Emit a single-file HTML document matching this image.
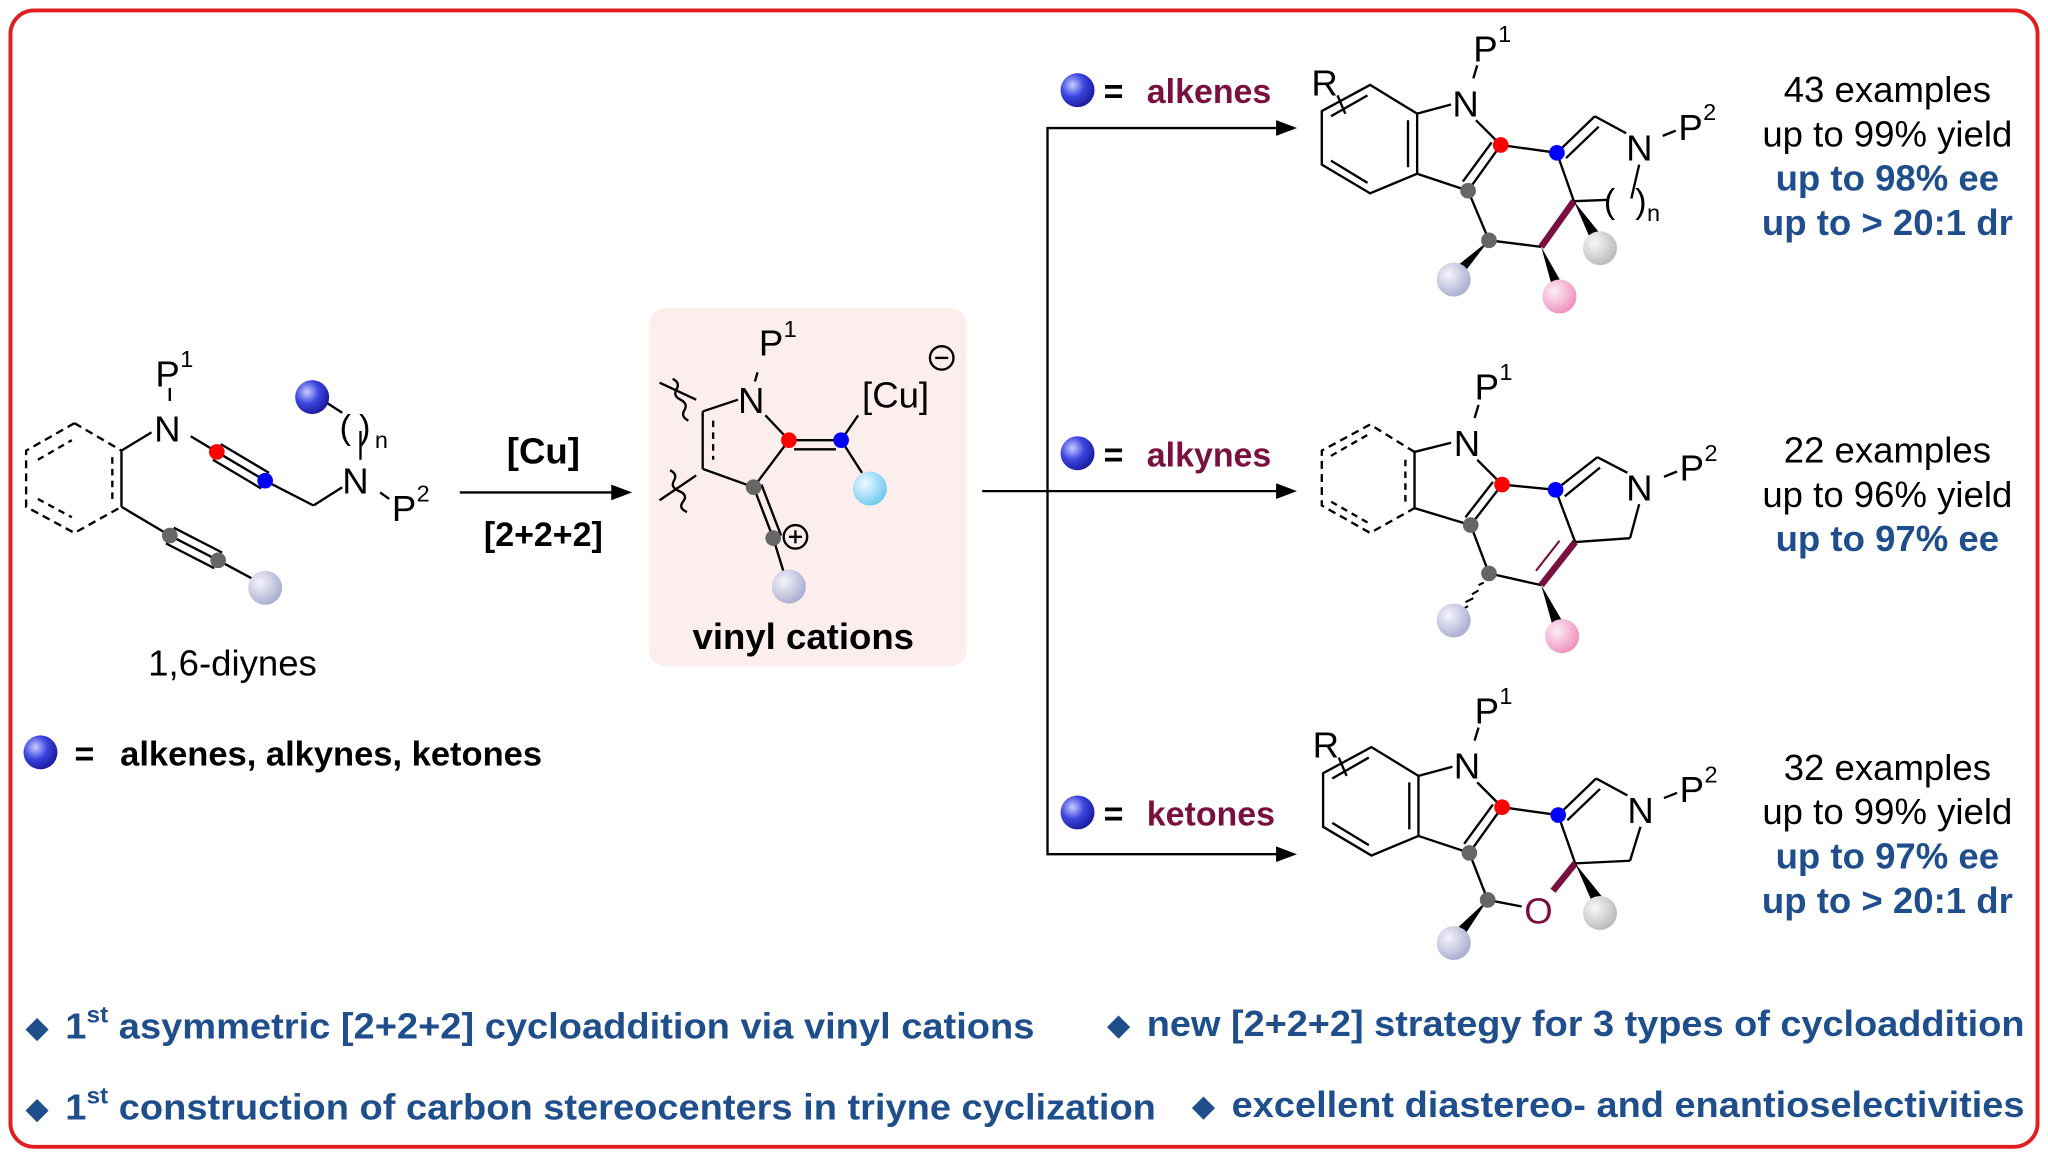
<!DOCTYPE html>
<html><head><meta charset="utf-8"><style>html,body{margin:0;padding:0;background:#fff}svg{display:block}</style></head><body>
<svg width="2048" height="1157" viewBox="0 0 1568 885.8" xmlns="http://www.w3.org/2000/svg" font-family="Liberation Sans, sans-serif">
<defs>
<radialGradient id="gb" cx="35%" cy="35%" r="70%"><stop offset="0" stop-color="#c8ccff"/><stop offset="0.5" stop-color="#3b45e0"/><stop offset="1" stop-color="#1a1a9a"/></radialGradient>
<radialGradient id="gl" cx="35%" cy="35%" r="70%"><stop offset="0" stop-color="#f4f5fb"/><stop offset="1" stop-color="#a9abd0"/></radialGradient>
<radialGradient id="gp" cx="35%" cy="35%" r="70%"><stop offset="0" stop-color="#fdeef5"/><stop offset="1" stop-color="#ef8fbd"/></radialGradient>
<radialGradient id="gg" cx="35%" cy="35%" r="70%"><stop offset="0" stop-color="#f8f8f8"/><stop offset="1" stop-color="#b8b8b8"/></radialGradient>
<radialGradient id="gc" cx="35%" cy="35%" r="70%"><stop offset="0" stop-color="#eefaff"/><stop offset="1" stop-color="#6cc8f0"/></radialGradient>
</defs>
<rect x="8" y="8" width="1552" height="870" rx="18" fill="#fff" stroke="#e02020" stroke-width="3"/>
<rect x="497" y="236" width="243" height="274" rx="12" fill="#fdeeee"/>

<g stroke="#000" stroke-width="1.8" fill="none">
<line x1="352" y1="377" x2="474" y2="377"/>
<line x1="752" y1="376" x2="982" y2="376"/>
<polyline points="990,98 802,98 802,654 982,654"/>
</g>
<g fill="#000">
<polygon points="484,377 468,371 468,383"/>
<polygon points="993,98 977,92 977,104"/>
<polygon points="993,376 977,370 977,382"/>
<polygon points="993,654 977,648 977,660"/>
</g>

<!-- starting material -->
<g stroke="#000" stroke-width="1.8" fill="none">
<polyline points="57,324 20,345 20,388 57,408 93,388" stroke-dasharray="6,4"/>
<line x1="57" y1="324" x2="93" y2="345" stroke-dasharray="6,4"/>
<line x1="93" y1="345" x2="93" y2="388"/>
<line x1="29" y1="352" x2="55" y2="337" stroke-dasharray="5,4"/>
<line x1="29" y1="382" x2="55" y2="396" stroke-dasharray="5,4"/>
<line x1="86" y1="350" x2="86" y2="383" stroke-dasharray="5,4"/>
<line x1="93" y1="345" x2="116" y2="331"/>
<line x1="130" y1="297" x2="130" y2="307"/>
<line x1="146" y1="334" x2="166" y2="346"/>
<line x1="166" y1="346" x2="203" y2="368"/><line x1="163" y1="352" x2="200" y2="374"/><line x1="169" y1="340" x2="206" y2="362"/>
<line x1="203" y1="368" x2="240" y2="387"/><line x1="240" y1="387" x2="262" y2="373"/>
<line x1="276" y1="352" x2="276" y2="330"/>
<line x1="248" y1="307" x2="262" y2="316"/>
<line x1="291" y1="377" x2="298" y2="382"/>
<line x1="93" y1="388" x2="130" y2="410"/>
<line x1="130" y1="410" x2="167" y2="429"/><line x1="127" y1="416" x2="164" y2="435"/><line x1="133" y1="404" x2="170" y2="423"/>
<line x1="167" y1="429" x2="195" y2="444"/>
</g>
<g font-size="28">
<text x="119" y="296">P</text><text x="138" y="281" font-size="18">1</text>
<text x="118" y="338">N</text>
<text x="262" y="378">N</text>
<text x="300" y="399">P</text><text x="319" y="384" font-size="18">2</text>
<text x="260" y="336" font-size="26">(</text><text x="275" y="336" font-size="26">)</text><text x="287" y="343" font-size="18">n</text>
</g>
<circle cx="166" cy="346" r="6" fill="#f00"/><circle cx="203" cy="368" r="6" fill="#00f"/>
<circle cx="130" cy="410" r="6" fill="#666"/><circle cx="167" cy="429" r="6" fill="#666"/>
<circle cx="239" cy="304" r="13" fill="url(#gb)"/>
<circle cx="203" cy="450" r="13" fill="url(#gl)"/>
<text x="178" y="517" font-size="28" text-anchor="middle">1,6-diynes</text>
<circle cx="31" cy="576" r="13" fill="url(#gb)"/>
<text x="57" y="586" font-size="26" font-weight="bold">=</text>
<text x="92" y="586" font-size="26" font-weight="bold" textLength="323" lengthAdjust="spacingAndGlyphs">alkenes, alkynes, ketones</text>
<text x="416" y="355" font-size="28" font-weight="bold" text-anchor="middle">[Cu]</text>
<text x="416" y="418" font-size="26" font-weight="bold" text-anchor="middle">[2+2+2]</text>

<!-- vinyl cation -->
<g stroke="#000" stroke-width="1.8" fill="none">
<line x1="538" y1="315" x2="565" y2="306"/>
<line x1="538" y1="315" x2="538" y2="359"/>
<line x1="546" y1="322" x2="546" y2="352" stroke-dasharray="5,4"/>
<line x1="538" y1="359" x2="577" y2="373"/>
<line x1="577" y1="373" x2="604" y2="337"/>
<line x1="586" y1="318" x2="604" y2="337"/>
<line x1="580" y1="285" x2="578" y2="292"/>
<line x1="604" y1="337" x2="644" y2="337"/><line x1="608" y1="344" x2="640" y2="344"/>
<line x1="644" y1="337" x2="657" y2="318"/>
<line x1="644" y1="337" x2="660" y2="362"/>
<line x1="577" y1="373" x2="592" y2="412"/><line x1="583" y1="371" x2="598" y2="410"/>
<line x1="592" y1="412" x2="600" y2="438"/>
<line x1="505" y1="293" x2="533" y2="306"/>
<path d="M515,290 q6,3 3,8 t3,8 t3,8 t3,8"/>
<line x1="505" y1="383" x2="533" y2="364"/>
<path d="M513,360 q6,3 3,8 t4,8 t3,8 t3,8"/>
<circle cx="721" cy="274" r="9"/><line x1="716" y1="274" x2="726" y2="274"/>
<circle cx="609" cy="411" r="9"/><line x1="604" y1="411" x2="614" y2="411"/><line x1="609" y1="406" x2="609" y2="416"/>
</g>
<g font-size="28">
<text x="581" y="272">P</text><text x="600" y="258" font-size="18">1</text>
<text x="565" y="316">N</text>
<text x="660" y="312">[Cu]</text>
</g>
<circle cx="604" cy="337" r="6" fill="#f00"/><circle cx="644" cy="337" r="6" fill="#00f"/>
<circle cx="577" cy="373" r="6" fill="#666"/><circle cx="592" cy="412" r="6" fill="#666"/>
<circle cx="666" cy="374" r="13" fill="url(#gc)"/>
<circle cx="604" cy="449" r="13" fill="url(#gl)"/>
<text x="615" y="497" font-size="28" font-weight="bold" text-anchor="middle">vinyl cations</text>

<g font-weight="bold" font-size="26">
<circle cx="825" cy="69" r="13" fill="url(#gb)"/><text x="845" y="79">=</text><text x="878" y="79" fill="#7a1040">alkenes</text>
<circle cx="825" cy="347" r="13" fill="url(#gb)"/><text x="845" y="357">=</text><text x="878" y="357" fill="#7a1040">alkynes</text>
<circle cx="825" cy="622" r="13" fill="url(#gb)"/><text x="845" y="632">=</text><text x="878" y="632" fill="#7a1040">ketones</text>
</g>

<!-- top product -->
<g stroke="#000" stroke-width="1.8" fill="none">
<polygon points="1049,65 1085,87 1085,133 1049,148 1012,126 1012,85"/>
<line x1="1078" y1="92" x2="1078" y2="128"/>
<line x1="1047" y1="140" x2="1019" y2="123"/>
<line x1="1019" y1="89" x2="1047" y2="73"/>
<line x1="1024" y1="73" x2="1030" y2="87"/>
<line x1="1085" y1="87" x2="1111" y2="80"/>
<line x1="1130" y1="92" x2="1149" y2="111"/>
<line x1="1131" y1="50" x2="1128" y2="60"/>
<line x1="1149" y1="111" x2="1124" y2="146"/><line x1="1142" y1="109" x2="1120" y2="139"/>
<line x1="1124" y1="146" x2="1085" y2="133"/>
<line x1="1124" y1="146" x2="1140" y2="184"/>
<line x1="1140" y1="184" x2="1180" y2="189"/>
<line x1="1149" y1="111" x2="1192" y2="117"/>
<line x1="1192" y1="117" x2="1205" y2="154"/>
<line x1="1192" y1="117" x2="1221" y2="89"/><line x1="1199" y1="121" x2="1224" y2="97"/>
<line x1="1221" y1="89" x2="1245" y2="102"/>
<line x1="1273" y1="104" x2="1283" y2="100"/>
<line x1="1255" y1="126" x2="1249" y2="152"/>
<line x1="1205" y1="154" x2="1232" y2="153"/>
</g>
<line x1="1180" y1="189" x2="1205" y2="154" stroke="#7a1040" stroke-width="5"/>
<g fill="#000">
<polygon points="1140,184 1110,208 1117,214"/>
<polygon points="1180,189 1189,222 1197,219"/>
<polygon points="1205,154 1219,186 1226,180"/>
</g>
<g font-size="28">
<text x="1004" y="73">R</text>
<text x="1128" y="47">P</text><text x="1147" y="32" font-size="18">1</text>
<text x="1112" y="89">N</text>
<text x="1245" y="123">N</text>
<text x="1285" y="107">P</text><text x="1304" y="92" font-size="18">2</text>
<text x="1228" y="163" font-size="26">(</text><text x="1252" y="163" font-size="26">)</text><text x="1261" y="169" font-size="18">n</text>
</g>
<circle cx="1149" cy="111" r="6" fill="#f00"/><circle cx="1192" cy="117" r="6" fill="#00f"/>
<circle cx="1124" cy="146" r="6" fill="#666"/><circle cx="1140" cy="184" r="6" fill="#666"/>
<circle cx="1113" cy="214" r="13" fill="url(#gl)"/>
<circle cx="1194" cy="227" r="13" fill="url(#gp)"/>
<circle cx="1225" cy="190" r="13" fill="url(#gg)"/>

<!-- middle product -->
<g stroke="#000" stroke-width="1.8" fill="none">
<polyline points="1083,346 1049,325 1012,345 1012,387 1049,408 1083,389" stroke-dasharray="6,4"/>
<line x1="1083" y1="346" x2="1083" y2="389"/>
<line x1="1076" y1="352" x2="1076" y2="384" stroke-dasharray="5,4"/>
<line x1="1047" y1="400" x2="1019" y2="384" stroke-dasharray="5,4"/>
<line x1="1019" y1="349" x2="1047" y2="333" stroke-dasharray="5,4"/>
<line x1="1083" y1="346" x2="1111" y2="339"/>
<line x1="1131" y1="352" x2="1150" y2="371"/>
<line x1="1132" y1="310" x2="1129" y2="320"/>
<line x1="1150" y1="371" x2="1126" y2="402"/><line x1="1143" y1="369" x2="1122" y2="396"/>
<line x1="1126" y1="402" x2="1083" y2="389"/>
<line x1="1126" y1="402" x2="1140" y2="439"/>
<line x1="1140" y1="439" x2="1180" y2="448"/>
<line x1="1150" y1="371" x2="1191" y2="375"/>
<line x1="1191" y1="375" x2="1206" y2="415"/>
<line x1="1191" y1="375" x2="1223" y2="350"/><line x1="1198" y1="380" x2="1225" y2="358"/>
<line x1="1223" y1="350" x2="1246" y2="362"/>
<line x1="1274" y1="365" x2="1284" y2="361"/>
<line x1="1255" y1="386" x2="1248" y2="412"/>
<line x1="1248" y1="412" x2="1206" y2="415"/>
</g>
<line x1="1180" y1="448" x2="1206" y2="415" stroke="#7a1040" stroke-width="5"/>
<line x1="1176" y1="437" x2="1194" y2="414" stroke="#7a1040" stroke-width="1.6"/>
<g stroke="#000" stroke-width="1.6">
<line x1="1136" y1="446" x2="1132" y2="448"/><line x1="1132" y1="452" x2="1127" y2="455"/><line x1="1128" y1="458" x2="1122" y2="461"/><line x1="1124" y1="464" x2="1117" y2="468"/>
</g>
<polygon points="1180,448 1189,480 1197,477" fill="#000"/>
<g font-size="28">
<text x="1129" y="306">P</text><text x="1148" y="291" font-size="18">1</text>
<text x="1113" y="349">N</text>
<text x="1245" y="383">N</text>
<text x="1286" y="368">P</text><text x="1305" y="353" font-size="18">2</text>
</g>
<circle cx="1150" cy="371" r="6" fill="#f00"/><circle cx="1191" cy="375" r="6" fill="#00f"/>
<circle cx="1126" cy="402" r="6" fill="#666"/><circle cx="1140" cy="439" r="6" fill="#666"/>
<circle cx="1113" cy="475" r="13" fill="url(#gl)"/>
<circle cx="1196" cy="487" r="13" fill="url(#gp)"/>

<!-- bottom product -->
<g transform="translate(1,507)">
<g stroke="#000" stroke-width="1.8" fill="none">
<polygon points="1049,65 1085,87 1085,133 1049,148 1012,126 1012,85"/>
<line x1="1078" y1="92" x2="1078" y2="128"/>
<line x1="1047" y1="140" x2="1019" y2="123"/>
<line x1="1019" y1="89" x2="1047" y2="73"/>
<line x1="1024" y1="73" x2="1030" y2="87"/>
<line x1="1085" y1="87" x2="1111" y2="80"/>
<line x1="1130" y1="92" x2="1149" y2="111"/>
<line x1="1131" y1="50" x2="1128" y2="60"/>
<line x1="1149" y1="111" x2="1124" y2="146"/><line x1="1142" y1="109" x2="1120" y2="139"/>
<line x1="1124" y1="146" x2="1085" y2="133"/>
<line x1="1124" y1="146" x2="1138" y2="182"/>
<line x1="1138" y1="182" x2="1164" y2="187"/>
<line x1="1149" y1="111" x2="1192" y2="117"/>
<line x1="1192" y1="117" x2="1205" y2="154"/>
<line x1="1192" y1="117" x2="1221" y2="89"/><line x1="1199" y1="121" x2="1224" y2="97"/>
<line x1="1221" y1="89" x2="1245" y2="102"/>
<line x1="1273" y1="104" x2="1283" y2="100"/>
<line x1="1255" y1="126" x2="1247" y2="152"/>
<line x1="1205" y1="154" x2="1247" y2="152"/>
</g>
<line x1="1188" y1="175" x2="1205" y2="154" stroke="#7a1040" stroke-width="5"/>
<g fill="#000">
<polygon points="1138,182 1110,208 1117,214"/>
<polygon points="1205,154 1219,186 1226,180"/>
</g>
<g font-size="28">
<text x="1004" y="73">R</text>
<text x="1128" y="47">P</text><text x="1147" y="32" font-size="18">1</text>
<text x="1112" y="89">N</text>
<text x="1245" y="123">N</text>
<text x="1285" y="107">P</text><text x="1304" y="92" font-size="18">2</text>
<text x="1166" y="200" fill="#7a1040">O</text>
</g>
<circle cx="1149" cy="111" r="6" fill="#f00"/><circle cx="1192" cy="117" r="6" fill="#00f"/>
<circle cx="1124" cy="146" r="6" fill="#666"/><circle cx="1138" cy="182" r="6" fill="#666"/>
<circle cx="1112" cy="215" r="13" fill="url(#gl)"/>
<circle cx="1224" cy="192" r="13" fill="url(#gg)"/>
</g>

<g font-size="28" text-anchor="middle">
<text x="1445" y="78">43 examples</text>
<text x="1445" y="112">up to 99% yield</text>
<text x="1445" y="146" font-weight="bold" fill="#1f4e8c">up to 98% ee</text>
<text x="1445" y="180" font-weight="bold" fill="#1f4e8c">up to &gt; 20:1 dr</text>
<text x="1445" y="354">22 examples</text>
<text x="1445" y="388">up to 96% yield</text>
<text x="1445" y="422" font-weight="bold" fill="#1f4e8c">up to 97% ee</text>
<text x="1445" y="597">32 examples</text>
<text x="1445" y="631">up to 99% yield</text>
<text x="1445" y="665" font-weight="bold" fill="#1f4e8c">up to 97% ee</text>
<text x="1445" y="699" font-weight="bold" fill="#1f4e8c">up to &gt; 20:1 dr</text>
</g>

<g font-weight="bold" fill="#1f4e8c" font-size="28">
<text x="20" y="794" font-size="22">◆</text>
<text x="50" y="795" textLength="742" lengthAdjust="spacingAndGlyphs">1<tspan font-size="18" dy="-12">st</tspan><tspan dy="12"> asymmetric [2+2+2] cycloaddition via vinyl cations</tspan></text>
<text x="848" y="792" font-size="22">◆</text>
<text x="878" y="793" textLength="672" lengthAdjust="spacingAndGlyphs">new [2+2+2] strategy for 3 types of cycloaddition</text>
<text x="20" y="856" font-size="22">◆</text>
<text x="50" y="857" textLength="835" lengthAdjust="spacingAndGlyphs">1<tspan font-size="18" dy="-12">st</tspan><tspan dy="12"> construction of carbon stereocenters in triyne cyclization</tspan></text>
<text x="913" y="854" font-size="22">◆</text>
<text x="943" y="855" textLength="607" lengthAdjust="spacingAndGlyphs">excellent diastereo- and enantioselectivities</text>
</g>
</svg>
</body></html>
